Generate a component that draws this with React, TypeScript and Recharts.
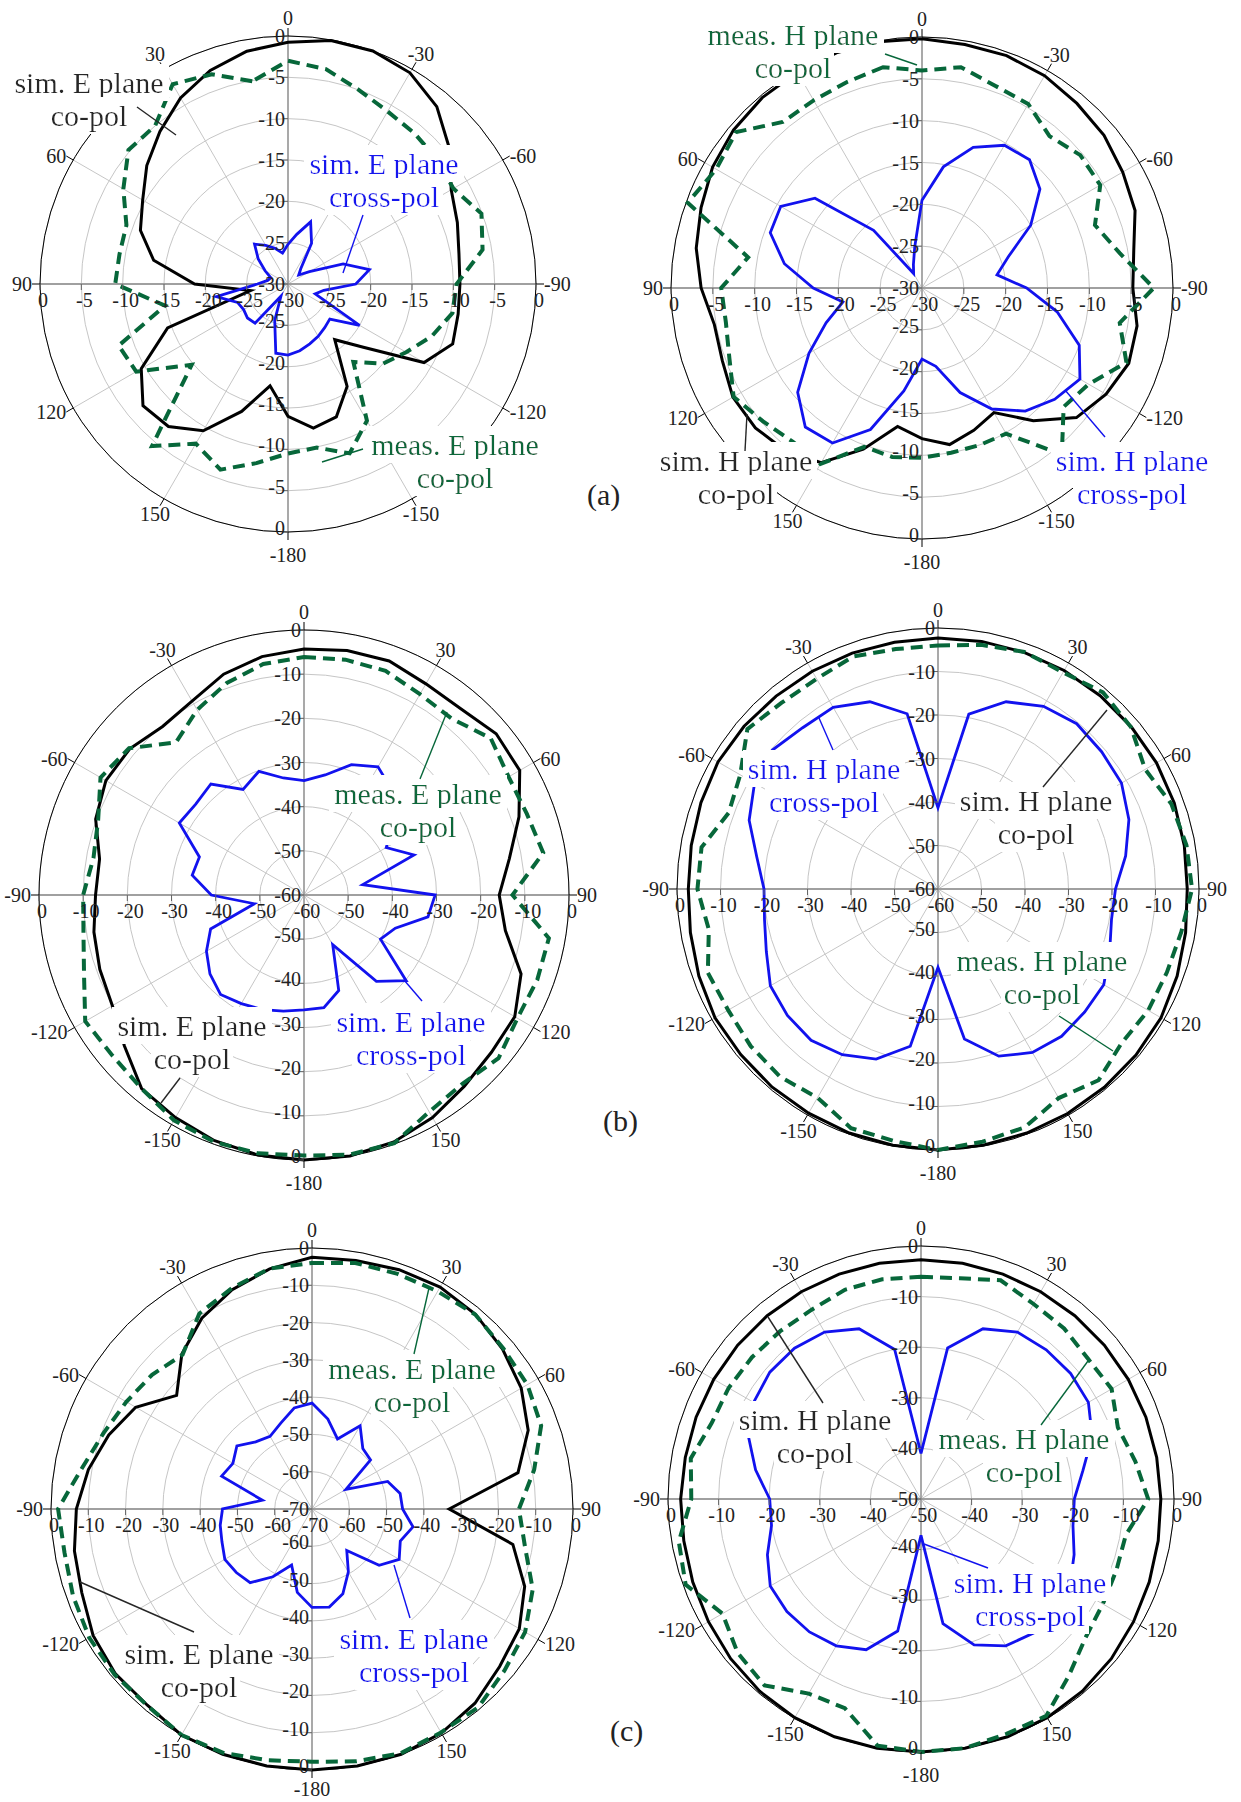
import React from 'react';
import { RadarChart, PolarGrid, PolarAngleAxis, PolarRadiusAxis, Radar } from 'recharts';

const PAGE_W = 1241;
const PAGE_H = 1802;
const FONT = "'Liberation Serif', 'Times New Roman', serif";
const DARK = '#262626';
const GREEN = '#07673a';
const BLUE = '#1212ee';

// angle of each sample, degrees (180.. shown as -180..-10)
const ANGLES = [0, 10, 20, 30, 40, 50, 60, 70, 80, 90, 100, 110, 120, 130, 140, 150, 160, 170,
  180, 190, 200, 210, 220, 230, 240, 250, 260, 270, 280, 290, 300, 310, 320, 330, 340, 350];

// (a) left, E plane, dB
const A_E_SIM = [-1.4, -2.5, -4.0, -5.9, -7.7, -9.7, -11, -13.5, -18.7, -25.4, -14.5, -9.5, -7.1, -7.5, -9.5, -13.6, -17.5, -14,
  -12.3, -12.9, -15.7, -21.2, -18.1, -11, -8.8, -9.1, -9.2, -9.0, -8.2, -7.2, -4.5, -2.0, -0.5, 0, -0.1, -0.75];
const A_E_MEAS = [-5.1, -3.0, -2.1, -5.0, -4.8, -7.0, -9.2, -9.3, -9.1, -14.9, -8.2, -8.8, -14.8, -4.4, -7.7, -6.1, -8.0, -9.5,
  -9.9, -8.2, -10.9, -17.7, -15.0, -13.5, -11.5, -9.8, -9.6, -6.1, -5.1, -6.9, -6.5, -6.2, -5.9, -5.0, -3.6, -3.0];
const A_E_CROSS = [-26.2, -25.4, -24.6, -23.7, -25.3, -26.8, -27.8, -27.5, -26.3, -21.2, -23.5, -23.8, -23.6, -23.8, -28.3, -25.3, -21.5, -21.4,
  -21.8, -22.3, -22.7, -23.1, -23.4, -20.0, -26.5, -25.6, -21.8, -20.0, -22.9, -27.0, -28.3, -27.6, -24.3, -22.0, -23.9, -25.2];

// (a) right, H plane
const A_H_SIM = [-0.1, -0.1, -0.2, -0.3, -0.6, -1.1, -1.9, -2.6, -3.6, -4.8, -4.6, -3.9, -4.0, -4.6, -5.9, -9.5, -13.2, -12,
  -11, -11.9, -12.8, -9.3, -5.9, -4.6, -3.7, -3.9, -4.8, -4.3, -2.9, -2.3, -1.6, -1.2, -0.7, -0.45, -0.45, -0.2];
const A_H_MEAS = [-3.2, -3.8, -4.1, -4.1, -1.0, -1.6, -0.2, -8.9, -6.0, -6.2, -5.5, -4.0, -5.2, -6.0, -5.7, -9.8, -9.5, -9.7,
  -10, -10, -9.9, -4.0, -7.9, -7.0, -4.0, -6.0, -2.3, -6.0, -8.0, -5.4, -5.3, -6.3, -4.6, -4.3, -3.2, -4.0];
const A_H_CROSS = [-25, -27, -28, -21, -13.3, -10.5, -10.7, -13.3, -17, -20.4, -17.8, -14.4, -10.6, -8.3, -8.6, -12, -17.5, -21.5,
  -20.5, -16.7, -13.3, -10.8, -9.3, -8.2, -10, -13.6, -17.5, -20.9, -19, -15, -11.6, -10, -10.3, -12.1, -15.3, -19.5];

// (b) left, E plane
const B_E_SIM = [-4.3, -3.8, -3.6, -4.8, -4.9, -3.2, -3.6, -8.2, -12.8, -15.8, -13.7, -7.7, -4.9, -4.6, -3.5, -1.8, -0.5, 0,
  0, -0.2, -0.8, -1.8, -2.8, -6.9, -9.9, -10.8, -11.7, -12.8, -13, -9.8, -8.2, -8.5, -10.2, -9.3, -6.8, -5.2];
const B_E_MEAS = [-6.1, -5.9, -6.0, -7.5, -7.9, -4.8, -6.5, -6.3, -5.0, -12.8, -3.7, -3.8, -4.2, -2.5, -4.2, -3.3, -0.2, -0.3,
  -1.0, -0.6, -0.5, -1.1, -2.8, -3.4, -2.8, -7.0, -9.3, -10, -11.6, -10.4, -6.8, -8.3, -14.9, -11.6, -8.9, -6.9];
const B_E_CROSS = [-34.1, -32.4, -28.6, -26.5, -29, -33, -38.5, -33.5, -46.5, -30.3, -31.5, -38, -40, -29.8, -34.5, -47, -37, -34.1,
  -34, -33.3, -32.4, -31.6, -30.6, -32.2, -34.5, -37.5, -48.6, -39, -34.3, -34.8, -27.4, -28, -27.2, -32.4, -30.2, -33.1];

// (b) right, H plane
const B_H_SIM = [-2.3, -2.2, -2.1, -2.0, -2.0, -2.0, -2.0, -2.2, -2.5, -2.7, -2.2, -1.5, -0.8, -0.6, -0.5, -0.4, -0.3, -0.2,
  0, -0.2, -0.3, -0.5, -0.6, -0.8, -0.8, -1.5, -2.2, -2.6, -2.4, -2.0, -1.6, -1.8, -2.1, -2.2, -2.3, -2.4];
const B_H_MEAS = [-4.0, -3.0, -2.0, -2.5, -1.0, -2.1, -5.0, -2.9, -2.0, -1.6, -3.2, -4.0, -4.2, -4.9, -2.6, -4.5, -1.7, -1.0,
  0, -1.2, -1.5, -4.6, -3.6, -3.8, -4.3, -3.7, -6.5, -4.7, -4.8, -8.8, -7.5, -2.8, -4.1, -4.2, -3.1, -4.0];
const B_H_CROSS = [-41.3, -19.2, -14.2, -11.5, -10.4, -10.9, -11.3, -13.3, -16.2, -19.2, -19.5, -18, -16, -16, -15.8, -16.6, -19.1, -25,
  -42, -23.3, -18.4, -16, -14.6, -14.8, -15.5, -18, -19.5, -20, -17.7, -13.8, -11.3, -10.3, -11.6, -11.8, -14.2, -19.1];

// (c) left, E plane
const C_E_SIM = [-2.5, -2.3, -1.7, -1.3, -1.8, -3.3, -5.2, -8.3, -13.9, -33.2, -15.3, -9.3, -5.8, -4.3, -2.0, -0.6, 0, 0,
  0, 0, 0, 0, -1.3, -1.2, -2.2, -4.3, -5.3, -6.8, -9.1, -12, -15.4, -22.6, -15.7, -10.9, -7.4, -4.6];
const C_E_MEAS = [-4.0, -3.0, -2.9, -2.6, -1.9, -3.0, -3.3, -4.6, -9.5, -14.5, -12, -7, -4, -2.6, -0.6, -0.8, -0.3, -1.3,
  -2.2, -1.6, -0.4, 0, -1.2, -0.9, -1.0, -1.8, -2.6, -1.9, -7.3, -10.5, -12.5, -14, -16, -9.5, -7.0, -4.5];
const C_E_CROSS = [-41.6, -45.5, -50, -44.2, -48.8, -49.5, -59.5, -48.4, -46, -45.7, -42.5, -44.8, -43, -46.5, -55.5, -50.5, -45.8, -43.3,
  -43.6, -47.3, -54, -49, -44.2, -43.5, -43, -44.3, -45, -46, -56.5, -44.2, -45.5, -43.7, -46.5, -47.5, -45.5, -42.5];

// (c) right, H plane
const C_H_SIM = [-2.7, -2.7, -2.7, -2.7, -2.7, -2.7, -2.7, -2.7, -2.7, -2.6, -2.4, -2.0, -1.5, -0.9, -0.4, -0.1, 0, 0,
  0, 0, 0, -0.1, -0.4, -0.9, -1.5, -2.0, -2.4, -2.5, -2.7, -2.7, -2.7, -2.7, -2.7, -2.7, -2.7, -2.7];
const C_H_MEAS = [-6.1, -5.7, -4.0, -5.5, -6.0, -6.9, -6.5, -8.6, -7.0, -5.1, -8.9, -8.9, -8.5, -7.5, -4.5, -0.5, -0.6, 0,
  0, -0.5, -6.0, -5.6, -1.9, -2.7, -4.7, -0.5, -1.4, -4.6, -3.8, -6.0, -6.1, -6.4, -6.7, -6.8, -6.0, -5.9];
const C_H_CROSS = [-41, -19.7, -14.2, -11.9, -11.5, -11.4, -11.8, -14, -17.5, -19.7, -19.5, -17.8, -16, -15.5, -15.4, -16.5, -19.3, -25,
  -42.8, -23.5, -18.3, -16.5, -15.7, -15.4, -15.6, -17.7, -20, -20.1, -16.8, -13.7, -11.8, -11, -11.1, -11.9, -14.2, -20];

const SPOKES = [0, 30, 60, 90, 120, 150, 180, 210, 240, 270, 300, 330];
const AXES = [0, 90, 180, 270];

// text callouts: centre x, first baseline y, leader line
const NOTES = [
  { x: 89, y: 93, color: DARK, lines: ['sim. E plane', 'co-pol'], lead: [137, 107, 176, 135] },
  { x: 384, y: 174, color: BLUE, lines: ['sim. E plane', 'cross-pol'], lead: [363, 215, 343, 273] },
  { x: 455, y: 455, color: GREEN, lines: ['meas. E plane', 'co-pol'], lead: [363, 449, 322, 462] },
  { x: 793, y: 45, color: GREEN, lines: ['meas. H plane', 'co-pol'], lead: [885, 54, 917, 65] },
  { x: 736, y: 471, color: DARK, lines: ['sim. H plane', 'co-pol'], lead: [745, 451, 747, 414] },
  { x: 1132, y: 471, color: BLUE, lines: ['sim. H plane', 'cross-pol'], lead: [1105, 437, 1065, 390] },
  { x: 418, y: 804, color: GREEN, lines: ['meas. E plane', 'co-pol'], lead: [420, 779, 447, 712] },
  { x: 192, y: 1036, color: DARK, lines: ['sim. E plane', 'co-pol'], lead: [180, 1078, 161, 1103] },
  { x: 411, y: 1032, color: BLUE, lines: ['sim. E plane', 'cross-pol'], lead: [422, 1001, 404, 980] },
  { x: 824, y: 779, color: BLUE, lines: ['sim. H plane', 'cross-pol'], lead: [833, 750, 819, 718] },
  { x: 1036, y: 811, color: DARK, lines: ['sim. H plane', 'co-pol'], lead: [1043, 787, 1107, 710] },
  { x: 1042, y: 971, color: GREEN, lines: ['meas. H plane', 'co-pol'], lead: [1059, 1016, 1113, 1051] },
  { x: 412, y: 1379, color: GREEN, lines: ['meas. E plane', 'co-pol'], lead: [414, 1354, 429, 1288] },
  { x: 199, y: 1664, color: DARK, lines: ['sim. E plane', 'co-pol'], lead: [194, 1632, 80, 1582] },
  { x: 414, y: 1649, color: BLUE, lines: ['sim. E plane', 'cross-pol'], lead: [410, 1618, 394, 1565] },
  { x: 815, y: 1430, color: DARK, lines: ['sim. H plane', 'co-pol'], lead: [823, 1403, 768, 1317] },
  { x: 1024, y: 1449, color: GREEN, lines: ['meas. H plane', 'co-pol'], lead: [1041, 1425, 1088, 1361] },
  { x: 1030, y: 1593, color: BLUE, lines: ['sim. H plane', 'cross-pol'], lead: [988, 1568, 924, 1544] },
];

const PANEL_TAGS = [
  { text: '(a)', x: 587, y: 505 },
  { text: '(b)', x: 603, y: 1131 },
  { text: '(c)', x: 610, y: 1741 },
];

const angleTick = (cx: number, cy: number, R: number, ccw: boolean, hide: number[]) => (props: any) => {
  const v = Number(props.payload?.value);
  if (v % 30 !== 0 || hide.includes(v)) return <g />;
  // place labels from the data angle itself, so they always sit on the true direction
  const a = ((90 + (ccw ? v : -v)) * Math.PI) / 180;
  const ux = Math.cos(a);
  const uy = -Math.sin(a);
  const label = v <= 150 ? v : v - 360;
  const side = Math.abs(ux) > 0.6;
  const d = side ? R + 8 : v === 180 ? R + 23 : R + 18;
  const anchor = side ? (ux > 0 ? 'start' : 'end') : 'middle';
  const ty = Math.min(cy + uy * d, PAGE_H - 13);
  return (
    <g>
      <line x1={cx + ux * R} y1={cy + uy * R} x2={cx + ux * (R + 8)} y2={cy + uy * (R + 8)} stroke="#000" strokeWidth={1} />
      <text x={cx + ux * d} y={ty} textAnchor={anchor} dominantBaseline="central"
        fontFamily={FONT} fontSize={20} fill="#222">{label}</text>
    </g>
  );
};

const radiusTick = (cx: number, cy: number) => (props: any) => {
  const c = props.payload?.coordinate;
  const r = typeof c === 'number' ? c : cy - props.y;
  const label = String(props.payload?.value);
  const t = { fontFamily: FONT, fontSize: 20, fill: '#222' };
  const centre = r < 1;
  return (
    <g>
      <line x1={cx - 5} x2={cx} y1={cy - r} y2={cy - r} stroke="#666" />
      <text x={cx - 3} y={cy - r} textAnchor="end" dominantBaseline="central" {...t}>{label}</text>
      <text x={cx - r + 3} y={cy + 9} textAnchor="middle" dominantBaseline="hanging" {...t}>{label}</text>
      {!centre && (
        <g>
          <line x1={cx - 5} x2={cx} y1={cy + r} y2={cy + r} stroke="#666" />
          <line x1={cx - r} x2={cx - r} y1={cy} y2={cy + 6} stroke="#666" />
          <line x1={cx + r} x2={cx + r} y1={cy} y2={cy + 6} stroke="#666" />
          <text x={cx - 3} y={cy + r - 4} textAnchor="end" dominantBaseline="central" {...t}>{label}</text>
          <text x={cx + r + 3} y={cy + 9} textAnchor="middle" dominantBaseline="hanging" {...t}>{label}</text>
        </g>
      )}
    </g>
  );
};

function PolarPlot({ cx, cy, r, min, step, ccw, hide = [], sim, meas, cross }: any) {
  const data = ANGLES.map((angle, i) => ({ angle, sim: sim[i], meas: meas[i], cross: cross[i] }));
  return (
    <div style={{ position: 'absolute', left: 0, top: 0 }}>
      <RadarChart width={PAGE_W} height={PAGE_H} data={data} cx={cx} cy={cy} innerRadius={0} outerRadius={r}
        startAngle={90} endAngle={ccw ? 450 : -270} margin={{ top: 0, right: 0, bottom: 0, left: 0 }}>
        <PolarGrid gridType="circle" polarAngles={SPOKES} stroke="#c6c6c6" strokeWidth={1} />
        <PolarGrid gridType="circle" polarAngles={AXES} polarRadius={[]} stroke="#8a8a8a" strokeWidth={1.3} />
        <PolarGrid gridType="circle" polarAngles={[]} polarRadius={[r]} stroke="#000" strokeWidth={1} />
        <PolarAngleAxis dataKey="angle" tickLine={false} axisLine={false} tick={angleTick(cx, cy, r, !!ccw, hide)} />
        <PolarRadiusAxis angle={90} domain={[min, 0]} tickCount={Math.round(-min / step) + 1} axisLine={false}
          tickLine={false} allowDataOverflow tick={radiusTick(cx, cy)} />
        <Radar dataKey="sim" stroke="#000" strokeWidth={3} fill="none" fillOpacity={0} dot={false} isAnimationActive={false} />
        <Radar dataKey="meas" stroke={GREEN} strokeWidth={4} strokeDasharray="12 7" fill="none" fillOpacity={0} dot={false} isAnimationActive={false} />
        <Radar dataKey="cross" stroke={BLUE} strokeWidth={2.8} fill="none" fillOpacity={0} dot={false} isAnimationActive={false} />
      </RadarChart>
    </div>
  );
}

export default function App() {
  return (
    <div style={{ position: 'absolute', left: 0, top: 0, width: PAGE_W, height: PAGE_H, background: '#fff', overflow: 'hidden' }}>
      <PolarPlot cx={288} cy={284} r={248} min={-30} step={5} ccw sim={A_E_SIM} meas={A_E_MEAS} cross={A_E_CROSS} />
      <PolarPlot cx={922} cy={288} r={251} min={-30} step={5} ccw hide={[30]} sim={A_H_SIM} meas={A_H_MEAS} cross={A_H_CROSS} />
      <PolarPlot cx={304} cy={895} r={265} min={-60} step={10} sim={B_E_SIM} meas={B_E_MEAS} cross={B_E_CROSS} />
      <PolarPlot cx={938} cy={889} r={261} min={-60} step={10} sim={B_H_SIM} meas={B_H_MEAS} cross={B_H_CROSS} />
      <PolarPlot cx={312} cy={1509} r={261} min={-70} step={10} sim={C_E_SIM} meas={C_E_MEAS} cross={C_E_CROSS} />
      <PolarPlot cx={921} cy={1499} r={253} min={-50} step={10} sim={C_H_SIM} meas={C_H_MEAS} cross={C_H_CROSS} />
      <svg width={PAGE_W} height={PAGE_H} style={{ position: 'absolute', left: 0, top: 0 }}>
        <defs>
          <filter id="bg" x="-0.03" y="-0.05" width="1.06" height="1.1">
            <feFlood floodColor="#fff" />
            <feComposite in="SourceGraphic" operator="over" />
          </filter>
        </defs>
        {NOTES.map((n, i) => (
          <g key={i}>
            {n.lines.map((s, k) => (
              <text key={k} x={n.x} y={n.y + k * 33} textAnchor="middle" fontFamily={FONT} fontSize={30}
                fill={n.color} filter="url(#bg)">{s}</text>
            ))}
            <line x1={n.lead[0]} y1={n.lead[1]} x2={n.lead[2]} y2={n.lead[3]} stroke={n.color} strokeWidth={1.4} />
          </g>
        ))}
        {PANEL_TAGS.map((p) => (
          <text key={p.text} x={p.x} y={p.y} fontFamily={FONT} fontSize={30} fill="#222">{p.text}</text>
        ))}
      </svg>
    </div>
  );
}
